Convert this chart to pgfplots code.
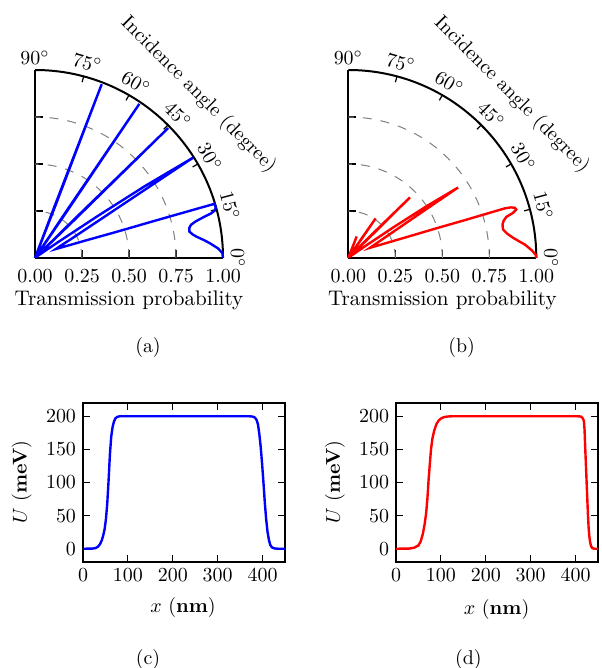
\documentclass[border=0pt]{standalone}
\usepackage{pgfplots}
\pgfplotsset{compat=1.18}
\pgfplotstableread{
t r
0 1.000
1.5 0.997
3 0.975
4.8 0.934
6 0.905
7.5 0.867
8.5 0.848
9.7 0.833
11 0.836
12 0.848
12.8 0.875
13.6 0.921
14.2 0.965
14.8 0.990
15.5 0.997
16.2 0.998
16.8 0.996
17.2 0.700
17.8 0.450
19.0 0.290
21.0 0.175
23.3 0.121
25.5 0.150
27.5 0.208
29.9 0.340
31.4 0.560
32.1 0.800
32.4 0.997
33.2 0.700
33.8 0.400
34.5 0.150
35.5 0.050
37.5 0.015
43.4 0.015
44.0 0.300
44.3 0.990
44.6 0.300
45.2 0.015
55.0 0.015
55.6 0.300
55.9 0.990
56.2 0.300
56.8 0.015
68.1 0.015
68.7 0.300
69.0 0.990
69.3 0.300
69.9 0.015
80 0.005
90 0.000
}\tA
\pgfplotstableread{
t r
0 1.000
1.0 0.997
2.5 0.975
4.4 0.941
5.7 0.910
7.0 0.883
8.7 0.855
10.4 0.837
12.2 0.839
13.5 0.850
14.6 0.869
15.3 0.908
16.1 0.930
16.8 0.925
17.3 0.905
17.6 0.873
18.0 0.650
18.6 0.500
19.9 0.313
21.9 0.201
25.2 0.127
28.9 0.212
31.6 0.411
32.3 0.552
32.7 0.694
33.5 0.500
34.2 0.300
35.0 0.120
36.0 0.050
38.0 0.015
43.4 0.015
44.1 0.200
44.5 0.460
44.9 0.200
45.6 0.015
54.6 0.015
55.1 0.120
55.4 0.256
55.7 0.120
56.3 0.015
68.0 0.015
68.4 0.070
68.7 0.123
69.0 0.070
69.5 0.015
80 0.005
90 0.000
}\tB
\pgfplotstableread{
x y
0 0
20 0.2
28 1
34 3.5
38 7
42 13
45 20
48 29
51 44
54 68
57 103
60 143
63 170
66 184
69 192
72 196.5
76 199
82 200
90 200
370 200
378 199.5
383 198
387 194
390 187
393 172
396 153
399 128
402 100
405 70
408 45
411 26
414 14
417 6
421 2
427 0.4
435 0
450 0
}\tC
\pgfplotstableread{
x y
0 0
30 0.3
40 1.5
50 5
55 11
60 23
64 38
67 53
70 76
72.5 103
75 125
78 150
81 166
85 178
90 188
95 193.5
100 196.5
107 198.7
115 199.6
125 200
405 200
412 199.5
416 197
418.5 193
420 180
421.5 153
423 128
424.5 103
426 78
427.5 53
429 33
430.5 20
432 12
434 5
436 2
439 0.5
443 0
450 0
}\tD
\pgfplotsset{
  polarstyle/.style={
    anchor=south west, x=94bp, y=94bp,
    xmin=0, xmax=1, ymin=0, ymax=1,
    axis lines*=left,
    axis line style={line width=1bp},
    tick align=inside,
    xtick={0,0.25,0.5,0.75,1},
    ytick={0.25,0.5,0.75},
    yticklabels={},
    xticklabel style={yshift=-2.5bp, /pgf/number format/.cd,fixed,fixed zerofill,precision=2},
    major tick length=4bp,
    tick style={line width=0.6bp, black},
    clip=false,
  },
  ustyle/.style={
    anchor=south west, scale only axis, width=101bp, height=79.5bp,
    xmin=0, xmax=450, ymin=-20, ymax=220,
    xtick={0,100,...,400}, ytick={0,50,...,200},
    axis line style={line width=1bp},
    tick align=inside, major tick length=3.5bp,
    tick style={line width=0.6bp, black},
  },
}
\newcommand\polardeco{%
  \draw[gray, dash pattern=on 4.5bp off 4.5bp, line width=0.5bp] (axis cs:0.25,0) arc[start angle=0,end angle=90,radius=23.5bp];
  \draw[gray, dash pattern=on 4.5bp off 4.5bp, line width=0.5bp] (axis cs:0.5,0) arc[start angle=0,end angle=90,radius=47bp];
  \draw[gray, dash pattern=on 4.5bp off 4.5bp, line width=0.5bp] (axis cs:0.75,0) arc[start angle=0,end angle=90,radius=70.5bp];
  \draw[line width=1bp] (axis cs:1,0) arc[start angle=0,end angle=90,radius=94bp];
  \draw[line width=0.6bp] (axis cs:0,0) ++(15:94bp) -- ++(195:3bp);
  \draw[line width=0.6bp] (axis cs:0,0) ++(30:94bp) -- ++(210:3bp);
  \draw[line width=0.6bp] (axis cs:0,0) ++(45:94bp) -- ++(225:3bp);
  \draw[line width=0.6bp] (axis cs:0,0) ++(60:94bp) -- ++(240:3bp);
  \draw[line width=0.6bp] (axis cs:0,0) ++(75:94bp) -- ++(255:3bp);
  \path (axis cs:0,0) ++(0:101.5bp) node[rotate=-90] {$0^\circ$};
  \path (axis cs:0,0) ++(15:101bp) node[rotate=-75] {$15^\circ$};
  \path (axis cs:0,0) ++(30:101bp) node[rotate=-60] {$30^\circ$};
  \path (axis cs:0,0) ++(45:101bp) node[rotate=-45] {$45^\circ$};
  \path (axis cs:0,0) ++(60:101bp) node[rotate=-30] {$60^\circ$};
  \path (axis cs:0,0) ++(75:101bp) node[rotate=-15] {$75^\circ$};
  \path (axis cs:0,0) ++(90:100bp) node {$90^\circ$};
  \path (axis cs:0,0) ++(45:115.5bp) node[rotate=-45] {Incidence angle (degree)};
}
\begin{document}
\begin{tikzpicture}
\useasboundingbox (0,0) rectangle (301bp,334bp);
% (a)
\begin{axis}[polarstyle, at={(17.5bp,205bp)}]
  \polardeco
  \addplot[blue, line width=1.2bp, data cs=polar] table[x=t, y=r] {\tA};
\end{axis}
% (b)
\begin{axis}[polarstyle, at={(174.15bp,205bp)}]
  \polardeco
  \addplot[red, line width=1.2bp, data cs=polar] table[x=t, y=r] {\tB};
\end{axis}
% (c)
\begin{axis}[ustyle, at={(41.5bp,53bp)}]
  \addplot[blue, line width=1.2bp] table[x=x, y=y] {\tC};
\end{axis}
% (d)
\begin{axis}[ustyle, at={(198bp,53bp)}]
  \addplot[red, line width=1.2bp] table[x=x, y=y] {\tD};
\end{axis}
\node[font=\fontsize{10.6}{12}\selectfont] at (64.5bp,184bp) {Transmission probability};
\node[font=\fontsize{10.6}{12}\selectfont] at (221.2bp,184bp) {Transmission probability};
\node at (74bp,160bp) {(a)};
\node at (230.85bp,160bp) {(b)};
\node at (74bp,4bp) {(c)};
\node at (234.2bp,4bp) {(d)};
\node[rotate=90] at (10.85bp,93bp) {$U$ (\textbf{meV})};
\node[rotate=90] at (167.5bp,93bp) {$U$ (\textbf{meV})};
\node at (91.5bp,30bp) {$x$ (\textbf{nm})};
\node at (248.3bp,29bp) {$x$ (\textbf{nm})};
\end{tikzpicture}
\end{document}
